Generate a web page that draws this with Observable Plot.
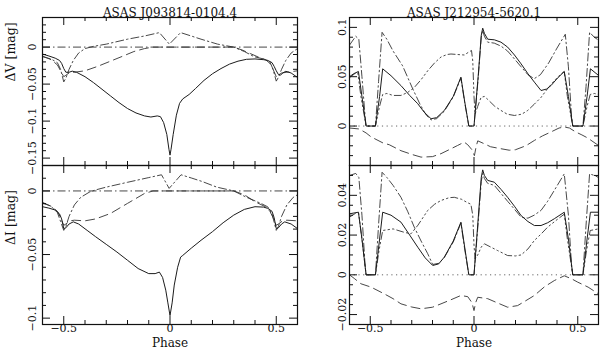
<!DOCTYPE html>
<html><head><meta charset="utf-8">
<script src="https://cdn.jsdelivr.net/npm/d3@7"></script>
<script src="https://cdn.jsdelivr.net/npm/@observablehq/plot@0.6"></script>
<style>
body{margin:0;background:#fff}
#chart{position:relative;width:600px;height:352px}
#chart svg{position:absolute;left:0;top:0}
</style>
</head><body><div id="chart"></div>
<script>
// ---------- labels & ticks ----------
const phaseDomain = [-0.6, 0.6];
const xMajor = [-0.5, 0, 0.5];
const xMinor = [-0.4, -0.3, -0.2, -0.1, 0.1, 0.2, 0.3, 0.4];
const titles = ["ASAS J093814-0104.4", "ASAS J212954-5620.1"];
const yLabels = ["ΔV [mag]", "ΔI [mag]"];
const xLabel = "Phase";

// ---------- ASAS J093814-0104.4, V ----------
const leftV_total = [[-0.6,-0.0094],[-0.57,-0.012],[-0.54,-0.015],[-0.52,-0.018],[-0.51,-0.022],[-0.5,-0.029],[-0.49,-0.034],[-0.475,-0.034],[-0.46,-0.0325],[-0.44,-0.034],[-0.4,-0.040],[-0.36,-0.048],[-0.32,-0.057],[-0.28,-0.066],[-0.24,-0.075],[-0.2,-0.083],[-0.16,-0.089],[-0.12,-0.093],[-0.09,-0.0945],[-0.06,-0.093],[-0.045,-0.094],[-0.03,-0.102],[-0.015,-0.118],[-0.005,-0.138],[0,-0.146],[0.005,-0.138],[0.015,-0.118],[0.03,-0.092],[0.045,-0.076],[0.06,-0.070],[0.09,-0.064],[0.12,-0.056],[0.16,-0.045],[0.2,-0.036],[0.24,-0.029],[0.28,-0.023],[0.32,-0.019],[0.36,-0.0165],[0.4,-0.016],[0.44,-0.017],[0.46,-0.018],[0.48,-0.021],[0.49,-0.026],[0.5,-0.032],[0.51,-0.037],[0.52,-0.038],[0.53,-0.035],[0.545,-0.0327],[0.57,-0.035],[0.6,-0.041]];
const leftV_dashed = [[-0.6,-0.012],[-0.56,-0.017],[-0.53,-0.024],[-0.515,-0.032],[-0.5,-0.040],[-0.49,-0.038],[-0.475,-0.035],[-0.45,-0.034],[-0.4,-0.032],[-0.34,-0.026],[-0.28,-0.019],[-0.22,-0.012],[-0.17,-0.006],[-0.12,-0.002],[-0.08,0],[0.3,0],[0.34,-0.004],[0.38,-0.009],[0.42,-0.014],[0.45,-0.017],[0.47,-0.022],[0.485,-0.03],[0.5,-0.040],[0.51,-0.038],[0.525,-0.035],[0.55,-0.034],[0.6,-0.032]];
const leftV_dashdot = [[-0.6,-0.013],[-0.56,-0.016],[-0.53,-0.021],[-0.515,-0.03],[-0.5,-0.047],[-0.49,-0.042],[-0.475,-0.030],[-0.455,-0.018],[-0.43,-0.008],[-0.4,-0.002],[-0.36,0.001],[-0.3,0.004],[-0.2,0.0107],[-0.12,0.015],[-0.05,0.0196],[-0.003,0.004],[0.05,0.0196],[0.1,0.015],[0.146,0.0107],[0.224,0.004],[0.3,0],[0.35,-0.006],[0.396,-0.013],[0.44,-0.016],[0.47,-0.02],[0.485,-0.03],[0.5,-0.046],[0.51,-0.041],[0.525,-0.03],[0.545,-0.018],[0.57,-0.008],[0.6,-0.002]];

// ---------- ASAS J093814-0104.4, I ----------
const leftI_total = [[-0.6,-0.0124],[-0.57,-0.0135],[-0.54,-0.015],[-0.52,-0.018],[-0.51,-0.022],[-0.5,-0.0296],[-0.49,-0.029],[-0.475,-0.026],[-0.455,-0.0243],[-0.43,-0.026],[-0.39,-0.031],[-0.35,-0.036],[-0.3,-0.042],[-0.25,-0.048],[-0.2,-0.0545],[-0.15,-0.061],[-0.1,-0.065],[-0.07,-0.065],[-0.05,-0.0638],[-0.035,-0.068],[-0.02,-0.078],[-0.01,-0.088],[0,-0.098],[0.01,-0.088],[0.02,-0.074],[0.036,-0.06],[0.05,-0.052],[0.06,-0.0507],[0.1,-0.045],[0.146,-0.0388],[0.2,-0.032],[0.25,-0.025],[0.3,-0.019],[0.35,-0.0145],[0.4,-0.0124],[0.44,-0.0127],[0.46,-0.0137],[0.48,-0.016],[0.49,-0.021],[0.5,-0.0296],[0.51,-0.029],[0.525,-0.026],[0.54,-0.0243],[0.57,-0.026],[0.6,-0.0296]];
const leftI_dashed = [[-0.6,-0.0095],[-0.56,-0.012],[-0.53,-0.016],[-0.515,-0.021],[-0.5,-0.027],[-0.49,-0.026],[-0.47,-0.0235],[-0.45,-0.023],[-0.4,-0.0235],[-0.35,-0.022],[-0.28,-0.0177],[-0.2,-0.0098],[-0.12,-0.002],[-0.08,0],[0.3,0],[0.35,-0.003],[0.4,-0.0085],[0.45,-0.0125],[0.47,-0.016],[0.485,-0.021],[0.5,-0.027],[0.51,-0.026],[0.53,-0.0235],[0.55,-0.023],[0.6,-0.0235]];
const leftI_dashdot = [[-0.6,-0.009],[-0.56,-0.012],[-0.53,-0.017],[-0.515,-0.024],[-0.5,-0.031],[-0.49,-0.028],[-0.475,-0.02],[-0.45,-0.011],[-0.42,-0.005],[-0.38,-0.001],[-0.35,0.0008],[-0.3,0.003],[-0.2,0.0068],[-0.1,0.0105],[-0.04,0.0127],[-0.004,0.002],[0.052,0.0127],[0.1,0.0102],[0.15,0.0075],[0.22,0.003],[0.3,0],[0.36,-0.005],[0.427,-0.0097],[0.46,-0.0125],[0.48,-0.018],[0.5,-0.031],[0.51,-0.028],[0.525,-0.02],[0.55,-0.011],[0.58,-0.005],[0.6,-0.003]];

// ---------- ASAS J212954-5620.1, V ----------
const rightV_total = [[-0.6,0.050],[-0.58,0.053],[-0.557,0.0553],[-0.54,0.03],[-0.52,0],[-0.475,0],[-0.455,0.03],[-0.44,0.058],[-0.4,0.051],[-0.352,0.041],[-0.31,0.031],[-0.271,0.0226],[-0.24,0.014],[-0.207,0.0074],[-0.18,0.0085],[-0.143,0.0158],[-0.1,0.03],[-0.063,0.0496],[-0.045,0.025],[-0.025,0],[0,0],[0.02,0.05],[0.035,0.092],[0.042,0.0992],[0.05,0.094],[0.066,0.088],[0.098,0.0874],[0.13,0.085],[0.162,0.080],[0.195,0.072],[0.227,0.063],[0.26,0.053],[0.291,0.0445],[0.323,0.036],[0.35,0.0375],[0.371,0.041],[0.4,0.048],[0.435,0.0553],[0.455,0.03],[0.476,0],[0.525,0],[0.545,0.03],[0.561,0.058],[0.6,0.0513]];
const rightV_dashdot = [[-0.6,0.082],[-0.57,0.091],[-0.555,0.088],[-0.54,0.05],[-0.525,0.01],[-0.52,0],[-0.475,0],[-0.46,0.045],[-0.443,0.095],[-0.42,0.088],[-0.39,0.076],[-0.344,0.061],[-0.296,0.038],[-0.26,0.022],[-0.23,0.011],[-0.207,0.0062],[-0.18,0.0075],[-0.143,0.015],[-0.1,0.0295],[-0.063,0.0485],[-0.045,0.024],[-0.025,0],[0,0],[0.02,0.048],[0.035,0.09],[0.042,0.097],[0.05,0.091],[0.066,0.085],[0.098,0.084],[0.13,0.081],[0.162,0.076],[0.195,0.068],[0.227,0.06],[0.26,0.052],[0.29,0.048],[0.32,0.052],[0.36,0.064],[0.4,0.079],[0.44,0.093],[0.455,0.06],[0.47,0.01],[0.476,0],[0.525,0],[0.54,0.04],[0.557,0.095],[0.58,0.09],[0.6,0.087]];
const rightV_dashdot3 = [[-0.6,0.049],[-0.575,0.053],[-0.56,0.054],[-0.545,0.03],[-0.52,0],[-0.475,0],[-0.455,0.02],[-0.44,0.032],[-0.42,0.033],[-0.39,0.031],[-0.352,0.031],[-0.32,0.034],[-0.288,0.039],[-0.255,0.047],[-0.223,0.056],[-0.19,0.064],[-0.159,0.070],[-0.13,0.0725],[-0.111,0.073],[-0.08,0.0725],[-0.047,0.072],[-0.025,0.075],[-0.012,0.0766],[-0.006,0.066],[0,0.03],[0.005,0.012],[0.018,0.02],[0.034,0.029],[0.05,0.030],[0.066,0.027],[0.1,0.02],[0.13,0.0158],[0.16,0.012],[0.195,0.0107],[0.23,0.012],[0.259,0.0158],[0.29,0.022],[0.323,0.029],[0.355,0.038],[0.387,0.046],[0.42,0.053],[0.435,0.055],[0.45,0.03],[0.476,0],[0.525,0],[0.545,0.02],[0.56,0.032],[0.58,0.033],[0.6,0.032]];
const rightV_dashed = [[-0.6,-0.002],[-0.553,-0.003],[-0.52,-0.007],[-0.496,-0.011],[-0.44,-0.017],[-0.408,-0.019],[-0.352,-0.025],[-0.296,-0.029],[-0.255,-0.0315],[-0.2,-0.031],[-0.159,-0.028],[-0.12,-0.024],[-0.079,-0.0197],[-0.047,-0.0163],[-0.03,-0.019],[-0.01,-0.024],[0.002,-0.03],[0.01,-0.021],[0.018,-0.015],[0.05,-0.018],[0.08,-0.021],[0.13,-0.023],[0.17,-0.0245],[0.2,-0.024],[0.25,-0.02],[0.291,-0.0146],[0.33,-0.01],[0.371,-0.006],[0.41,-0.002],[0.435,-0.001],[0.46,-0.002],[0.49,-0.006],[0.52,-0.009],[0.547,-0.012],[0.6,-0.0197]];

// ---------- ASAS J212954-5620.1, I ----------
const rightI_total = [[-0.6,0.0307],[-0.557,0.0315],[-0.54,0.018],[-0.52,0],[-0.475,0],[-0.455,0.018],[-0.44,0.0315],[-0.4,0.030],[-0.352,0.0265],[-0.31,0.020],[-0.271,0.0139],[-0.235,0.0085],[-0.199,0.0047],[-0.17,0.0055],[-0.143,0.0089],[-0.1,0.017],[-0.063,0.0265],[-0.045,0.014],[-0.025,0],[0,0],[0.02,0.028],[0.035,0.049],[0.042,0.0528],[0.05,0.050],[0.066,0.0475],[0.098,0.0466],[0.13,0.043],[0.162,0.039],[0.195,0.0345],[0.227,0.0298],[0.26,0.0268],[0.291,0.0248],[0.323,0.0248],[0.355,0.0262],[0.387,0.0282],[0.435,0.0315],[0.455,0.018],[0.476,0],[0.525,0],[0.545,0.018],[0.561,0.0315],[0.6,0.0315]];
const rightI_dashdot = [[-0.6,0.05],[-0.57,0.051],[-0.555,0.049],[-0.54,0.03],[-0.525,0.005],[-0.52,0],[-0.475,0],[-0.46,0.025],[-0.443,0.0516],[-0.42,0.049],[-0.39,0.045],[-0.352,0.039],[-0.32,0.032],[-0.288,0.024],[-0.255,0.017],[-0.223,0.0106],[-0.199,0.0052],[-0.17,0.0058],[-0.143,0.0087],[-0.1,0.0165],[-0.063,0.026],[-0.045,0.013],[-0.025,0],[0,0],[0.02,0.026],[0.035,0.047],[0.042,0.051],[0.05,0.0485],[0.066,0.046],[0.098,0.045],[0.13,0.041],[0.162,0.037],[0.195,0.033],[0.227,0.029],[0.26,0.0285],[0.29,0.030],[0.323,0.0324],[0.355,0.037],[0.39,0.043],[0.435,0.0508],[0.455,0.03],[0.47,0.005],[0.476,0],[0.525,0],[0.54,0.025],[0.557,0.0508],[0.58,0.05],[0.6,0.049]];
const rightI_dashdot3 = [[-0.6,0.029],[-0.57,0.031],[-0.556,0.031],[-0.54,0.018],[-0.52,0],[-0.475,0],[-0.458,0.012],[-0.44,0.0223],[-0.39,0.0231],[-0.34,0.0215],[-0.304,0.0206],[-0.27,0.025],[-0.223,0.0324],[-0.19,0.0355],[-0.159,0.0374],[-0.12,0.0388],[-0.095,0.039],[-0.06,0.038],[-0.035,0.0365],[-0.015,0.0355],[-0.006,0.03],[0,0.015],[0.005,0.008],[0.018,0.01],[0.035,0.014],[0.05,0.0156],[0.08,0.014],[0.114,0.0122],[0.162,0.0097],[0.2,0.0095],[0.227,0.010],[0.26,0.013],[0.291,0.0173],[0.323,0.0205],[0.355,0.024],[0.403,0.028],[0.435,0.0305],[0.45,0.018],[0.476,0],[0.525,0],[0.542,0.012],[0.56,0.0223],[0.6,0.0231]];
const rightI_dashed = [[-0.6,0],[-0.575,-0.002],[-0.545,-0.0045],[-0.496,-0.0062],[-0.432,-0.0096],[-0.39,-0.012],[-0.352,-0.0146],[-0.3,-0.0162],[-0.255,-0.0171],[-0.2,-0.0163],[-0.159,-0.0146],[-0.11,-0.0125],[-0.063,-0.0104],[-0.03,-0.011],[-0.01,-0.014],[0,-0.018],[0.008,-0.014],[0.018,-0.0113],[0.066,-0.012],[0.11,-0.014],[0.162,-0.0163],[0.21,-0.0155],[0.25,-0.013],[0.291,-0.0104],[0.34,-0.006],[0.387,-0.0029],[0.435,-0.0005],[0.47,-0.002],[0.5,-0.0037],[0.55,-0.0062],[0.6,-0.0096]];

// ---------- y axis ticks ----------
const yMajorLeftV = [-0.15, -0.1, -0.05, 0];
const yMajorLeftI = [-0.1, -0.05, 0];
const yMajorRightV = [0, 0.05, 0.1];
const yMajorRightI = [-0.02, 0, 0.02, 0.04];

// ---------- styles ----------
const STY = {
  solid:    {stroke: "#1c1c1c", width: 1.0, dash: null},
  dashed:   {stroke: "#333", width: 0.9, dash: "9,5"},
  dashdot:  {stroke: "#333", width: 0.9, dash: "8,3,1.5,3"},
  dashdot3: {stroke: "#333", width: 0.9, dash: "7,3,1.5,3,1.5,3,1.5,3"},
  dotted:   {stroke: "#555", width: 0.9, dash: "1.2,3.5"}
};
const FONT = "DejaVu Serif";
const fmt = d => d === 0 ? "0" : (d < 0 ? "\u2212" : "") + String(Math.abs(d));

function panel(o) {
  const W = 600, H = 352, m = o.margin;
  const fw = W - m.left - m.right, fh = H - m.top - m.bottom;
  const n0 = Math.round(o.yDomain[0] / o.yMinorStep), n1 = Math.round(o.yDomain[1] / o.yMinorStep);
  const yMinor = d3.range(n0, n1 + 1).map(k => +(k * o.yMinorStep).toFixed(4))
    .filter(v => !o.yMajor.some(t => Math.abs(t - v) < 1e-9));
  const majL = 8, minL = 4, tk = {stroke: "#111", strokeWidth: 1};
  const marks = [];
  marks.push(Plot.ruleY([0], {stroke: o.zero.stroke, strokeWidth: o.zero.width, strokeDasharray: o.zero.dash}));
  for (const s of o.series) {
    marks.push(Plot.line(s.data, {x: d => d[0], y: d => d[1], stroke: s.sty.stroke, strokeWidth: s.sty.width, strokeDasharray: s.sty.dash, clip: true}));
  }
  // inward ticks on all four sides
  marks.push(Plot.tickX(xMajor, {x: d => d, insetBottom: fh - majL, ...tk}));
  marks.push(Plot.tickX(xMinor, {x: d => d, insetBottom: fh - minL, ...tk}));
  marks.push(Plot.tickX(xMajor, {x: d => d, insetTop: fh - majL, ...tk}));
  marks.push(Plot.tickX(xMinor, {x: d => d, insetTop: fh - minL, ...tk}));
  marks.push(Plot.tickY(o.yMajor, {y: d => d, insetRight: fw - majL, ...tk}));
  marks.push(Plot.tickY(yMinor, {y: d => d, insetRight: fw - minL, ...tk}));
  marks.push(Plot.tickY(o.yMajor, {y: d => d, insetLeft: fw - majL, ...tk}));
  marks.push(Plot.tickY(yMinor, {y: d => d, insetLeft: fw - minL, ...tk}));
  marks.push(Plot.frame({stroke: "#111", strokeWidth: 1.2}));
  marks.push(Plot.axisY({anchor: "left", ticks: o.yMajor, tickSize: 0, tickPadding: o.yPad, tickRotate: -90, tickFormat: fmt, fontSize: 11, label: null}));
  if (o.xLabels) {
    marks.push(Plot.axisX({anchor: "bottom", ticks: xMajor, tickSize: 0, tickPadding: 0, tickFormat: fmt, fontSize: 11, label: null}));
    marks.push(Plot.text([xLabel], {text: d => d, frameAnchor: "bottom", dy: 22, fontSize: 12}));
  }
  if (o.title) marks.push(Plot.text([o.title], {text: d => d, frameAnchor: "top", dy: -9, fontSize: 12}));
  if (o.ylabel) marks.push(Plot.text([o.ylabel], {text: d => d, frameAnchor: "left", dx: -32, dy: o.ylabelDy || 0, rotate: -90, fontSize: 12.5}));
  return Plot.plot({
    width: W, height: H,
    marginLeft: m.left, marginRight: m.right, marginTop: m.top, marginBottom: m.bottom,
    x: {domain: phaseDomain, axis: null},
    y: {domain: o.yDomain, axis: null},
    style: {fontFamily: FONT, background: "transparent", color: "#111", overflow: "visible"},
    marks
  });
}

const chart = document.getElementById("chart");
const panels = [
  {margin: {left: 42, right: 303, top: 17, bottom: 187}, yDomain: [-0.16, 0.04], yMajor: yMajorLeftV, yMinorStep: 0.01, yPad: 7,
   title: titles[0], ylabel: yLabels[0], ylabelDy: -10, zero: STY.dashdot,
   series: [{data: leftV_dashed, sty: STY.dashed}, {data: leftV_dashdot, sty: STY.dashdot}, {data: leftV_total, sty: STY.solid}]},
  {margin: {left: 42, right: 303, top: 165, bottom: 28}, yDomain: [-0.105, 0.02], yMajor: yMajorLeftI, yMinorStep: 0.01, yPad: 7,
   ylabel: yLabels[1], xLabels: true, zero: STY.dashdot,
   series: [{data: leftI_dashed, sty: STY.dashed}, {data: leftI_dashdot, sty: STY.dashdot}, {data: leftI_total, sty: STY.solid}]},
  {margin: {left: 349, right: 2, top: 17, bottom: 187}, yDomain: [-0.04, 0.11], yMajor: yMajorRightV, yMinorStep: 0.01, yPad: 4,
   title: titles[1], zero: STY.dotted,
   series: [{data: rightV_dashed, sty: STY.dashed}, {data: rightV_dashdot3, sty: STY.dashdot3}, {data: rightV_dashdot, sty: STY.dashdot}, {data: rightV_total, sty: STY.solid}]},
  {margin: {left: 349, right: 2, top: 165, bottom: 28}, yDomain: [-0.025, 0.055], yMajor: yMajorRightI, yMinorStep: 0.005, yPad: 4,
   xLabels: true, zero: STY.dotted,
   series: [{data: rightI_dashed, sty: STY.dashed}, {data: rightI_dashdot3, sty: STY.dashdot3}, {data: rightI_dashdot, sty: STY.dashdot}, {data: rightI_total, sty: STY.solid}]}
];
for (const p of panels) chart.appendChild(panel(p));
</script>
</body></html>
